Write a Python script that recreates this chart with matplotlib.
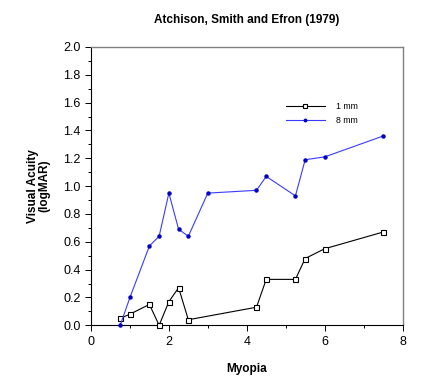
import matplotlib
matplotlib.use("Agg")
import matplotlib.pyplot as plt
from matplotlib.ticker import MultipleLocator

plt.rcParams.update({"font.family": ["Liberation Sans", "DejaVu Sans"],
                     "font.size": 8.5})

# Myopia (D) vs visual acuity (logMAR)
myopia_1mm = [0.75, 1.0, 1.5, 1.75, 2.0, 2.25, 2.5, 4.25, 4.5, 5.25, 5.5, 6.0, 7.5]
va_1mm = [0.05, 0.08, 0.15, 0.0, 0.17, 0.27, 0.04, 0.13, 0.33, 0.33, 0.48, 0.55, 0.67]

myopia_8mm = [0.75, 1.0, 1.5, 1.75, 2.0, 2.25, 2.5, 3.0, 4.25, 4.5, 5.25, 5.5, 6.0, 7.5]
va_8mm = [0.0, 0.20, 0.57, 0.64, 0.95, 0.69, 0.64, 0.95, 0.97, 1.07, 0.93, 1.19, 1.21, 1.36]

fig = plt.figure(figsize=(4.36, 3.78), dpi=100)
ax = fig.add_axes([0.2087, 0.1394, 0.7145, 0.7363])

ax.plot(myopia_1mm, va_1mm, color="black", linewidth=0.8, marker="s",
        markersize=3.6, markerfacecolor="white", markeredgecolor="black",
        markeredgewidth=0.8, label="1 mm", clip_on=False, zorder=3)
ax.plot(myopia_8mm, va_8mm, color="#3b3bff", linewidth=0.8, marker="o",
        markersize=2.2, markerfacecolor="#0000c0", markeredgecolor="#0000c0",
        label="8 mm", clip_on=False, zorder=3)

ax.set_xlim(0, 8)
ax.set_ylim(0, 2.0)
ax.xaxis.set_major_locator(MultipleLocator(2))
ax.xaxis.set_minor_locator(MultipleLocator(1))
ax.yaxis.set_major_locator(MultipleLocator(0.2))
ax.yaxis.set_minor_locator(MultipleLocator(0.1))
ax.yaxis.set_major_formatter(plt.FormatStrFormatter("%.1f"))
ax.tick_params(which="both", direction="out", top=False, right=False,
               labelsize=9, width=0.7)
ax.tick_params(which="major", length=4)
ax.tick_params(which="minor", length=2.5)
for side in ["left", "bottom"]:
    ax.spines[side].set_linewidth(0.8)
for side in ["top", "right"]:
    ax.spines[side].set_color("#808080")
    ax.spines[side].set_linewidth(1.0)

ax.set_xlabel("Myopia", fontweight="bold", labelpad=11)
ax.set_ylabel("Visual Acuity\n(logMAR)", fontweight="bold", labelpad=9,
              linespacing=1.0)
ax.set_title("Atchison, Smith and Efron (1979)", fontweight="bold",
             fontsize=8.5, pad=17)

ax.legend(loc="upper left", bbox_to_anchor=(0.6, 0.83), frameon=False,
          fontsize=6.3, handlelength=4.5, handletextpad=1.2, labelspacing=0.55,
          markerscale=0.8)

fig.savefig("out.png", dpi=100)
